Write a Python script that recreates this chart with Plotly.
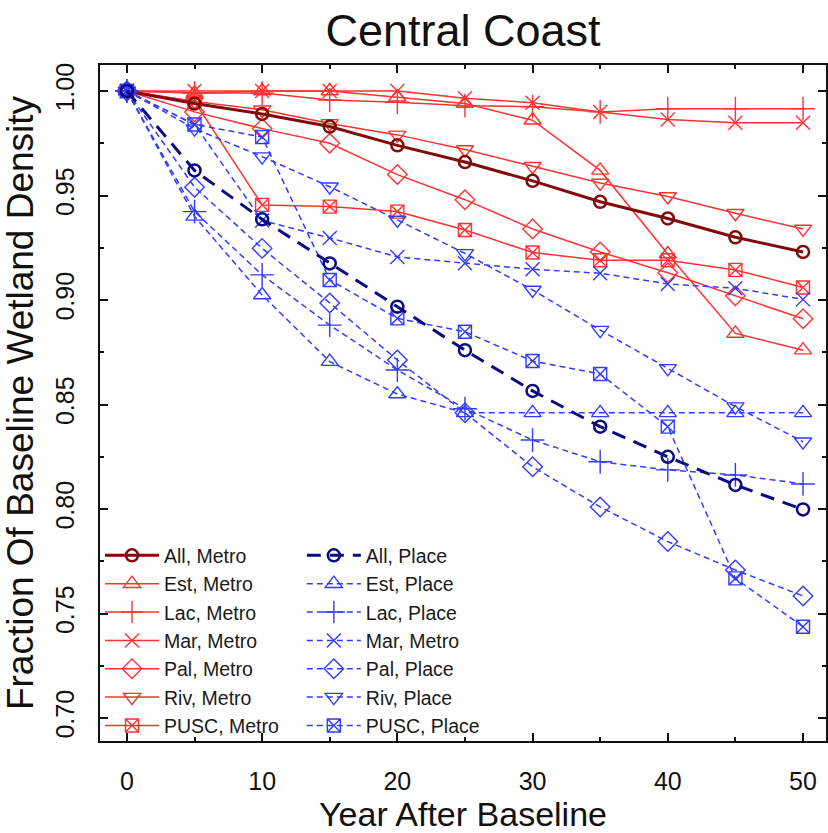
import plotly.graph_objects as go

years = [0, 5, 10, 15, 20, 25, 30, 35, 40, 45, 50]

all_metro = [1.000, 0.994, 0.989, 0.983, 0.974, 0.966, 0.957, 0.947, 0.939, 0.930, 0.923]
est_metro = [1.000, 0.999, 1.000, 1.000, 0.997, 0.994, 0.986, 0.962, 0.922, 0.884, 0.876]
lac_metro = [1.000, 0.999, 0.999, 0.9957, 0.9946, 0.993, 0.9925, 0.990, 0.9915, 0.9915, 0.9915]
mar_metro = [1.000, 1.000, 1.000, 1.000, 1.000, 0.9965, 0.9944, 0.990, 0.9864, 0.9848, 0.9848]
pal_metro = [1.000, 0.990, 0.982, 0.975, 0.960, 0.948, 0.934, 0.923, 0.913, 0.902, 0.891]
riv_metro = [1.000, 0.995, 0.991, 0.9845, 0.979, 0.972, 0.964, 0.956, 0.9495, 0.9415, 0.934]
pusc_metro = [1.000, 0.995, 0.9455, 0.9447, 0.9423, 0.9335, 0.9227, 0.919, 0.919, 0.9144, 0.906]

all_place = [1.000, 0.962, 0.9386, 0.9175, 0.8968, 0.876, 0.8565, 0.8394, 0.825, 0.8115, 0.7998]
est_place = [1.000, 0.940, 0.9024, 0.8705, 0.855, 0.846, 0.846, 0.846, 0.846, 0.846, 0.846]
lac_place = [1.000, 0.9423, 0.912, 0.888, 0.8665, 0.848, 0.833, 0.8226, 0.8187, 0.8163, 0.812]
mar_place = [1.000, 0.984, 0.938, 0.9297, 0.9206, 0.9176, 0.9147, 0.9128, 0.9077, 0.9056, 0.9003]
pal_place = [1.000, 0.954, 0.9247, 0.8986, 0.8713, 0.846, 0.8202, 0.801, 0.7844, 0.7708, 0.7584]
riv_place = [1.000, 0.982, 0.9686, 0.9542, 0.9383, 0.9223, 0.9048, 0.8856, 0.8673, 0.849, 0.8322]
pusc_place = [1.000, 0.984, 0.978, 0.9096, 0.8912, 0.8848, 0.8708, 0.8646, 0.8394, 0.7668, 0.7437]

metro_names = ["Est, Metro", "Lac, Metro", "Mar, Metro", "Pal, Metro", "Riv, Metro", "PUSC, Metro"]
place_names = ["Est, Place", "Lac, Place", "Mar, Metro", "Pal, Place", "Riv, Place", "PUSC, Place"]
symbols = ["triangle-up-open", "cross-thin-open", "x-thin-open", "diamond-open",
           "triangle-down-open", "square-x-open"]
sizes = [15, 17, 14, 15, 15, 13]
metro_vals = [est_metro, lac_metro, mar_metro, pal_metro, riv_metro, pusc_metro]
place_vals = [est_place, lac_place, mar_place, pal_place, riv_place, pusc_place]

RED = "rgb(255,50,50)"
BLUE = "rgb(50,60,255)"
DRED = "rgb(130,10,10)"
NAVY = "rgb(10,10,130)"

fig = go.Figure()

# metro series
for i, (nm, vals) in enumerate(zip(metro_names, metro_vals)):
    fig.add_trace(go.Scatter(
        x=years, y=vals, name=nm, mode="lines+markers", legend="legend", legendrank=i + 2,
        line=dict(color=RED, width=1.5),
        marker=dict(symbol=symbols[i], size=sizes[i], color=RED, line=dict(color=RED, width=1.4)),
    ))
fig.add_trace(go.Scatter(
    x=years, y=all_metro, name="All, Metro", mode="lines+markers", legend="legend", legendrank=1,
    line=dict(color=DRED, width=3),
    marker=dict(symbol="circle-open", size=12, color=DRED, line=dict(color=DRED, width=2.5)),
))
# place series
for i, (nm, vals) in enumerate(zip(place_names, place_vals)):
    fig.add_trace(go.Scatter(
        x=years, y=vals, name=nm, mode="lines+markers", legend="legend2", legendrank=i + 2,
        line=dict(color=BLUE, width=1.5, dash="6px,4px"),
        marker=dict(symbol=symbols[i], size=sizes[i], color=BLUE, line=dict(color=BLUE, width=1.4)),
    ))
fig.add_trace(go.Scatter(
    x=years, y=all_place, name="All, Place", mode="lines+markers", legend="legend2", legendrank=1,
    line=dict(color=NAVY, width=3, dash="14px,9px"),
    marker=dict(symbol="circle-open", size=12, color=NAVY, line=dict(color=NAVY, width=2.5)),
))

TICKFONT = dict(family="Liberation Sans, Arial", size=25, color="#111")
legfont = dict(family="Liberation Sans, Arial", size=19.5, color="#1a1a1a")

fig.update_layout(
    width=828, height=833,
    margin=dict(l=100, r=0, t=65, b=92),
    paper_bgcolor="white", plot_bgcolor="white",
    title=dict(text="Central Coast", x=0.5, xref="paper", xanchor="center",
               y=1 - 30 / 833, yref="container", yanchor="middle",
               font=dict(family="Liberation Sans, Arial", size=45, color="#111")),
    showlegend=True,
    legend=dict(x=0.0, y=0.303, xanchor="left", yanchor="top", bgcolor="rgba(0,0,0,0)",
                font=legfont, itemwidth=54, tracegroupgap=0, traceorder="normal"),
    legend2=dict(x=0.278, y=0.303, xanchor="left", yanchor="top", bgcolor="rgba(0,0,0,0)",
                 font=legfont, itemwidth=54, tracegroupgap=0, traceorder="normal"),
    xaxis=dict(range=[-1.99, 51.70], tickmode="array", tickvals=[0, 10, 20, 30, 40, 50],
               ticks="inside", ticklen=8, tickwidth=2, tickcolor="#111",
               showline=True, linewidth=2, linecolor="#111", mirror="ticks",
               showgrid=False, zeroline=False, tickfont=TICKFONT, ticklabelstandoff=17,
               minor=dict(tickvals=[5, 15, 25, 35, 45], ticks="inside", ticklen=4, tickwidth=1.5, tickcolor="#111", showgrid=False),
               title=dict(text="Year After Baseline", standoff=2,
                          font=dict(family="Liberation Sans, Arial", size=34, color="#111"))),
    yaxis=dict(range=[0.68900, 1.01244], tickmode="array",
               tickvals=[0.70, 0.75, 0.80, 0.85, 0.90, 0.95, 1.00],
               ticktext=["0.70", "0.75", "0.80", "0.85", "0.90", "0.95", "1.00"],
               tickangle=-90,
               ticks="inside", ticklen=8, tickwidth=2, tickcolor="#111",
               showline=True, linewidth=2, linecolor="#111", mirror="ticks",
               showgrid=False, zeroline=False, tickfont=TICKFONT, ticklabelstandoff=14,
               minor=dict(tickvals=[0.725, 0.775, 0.825, 0.875, 0.925, 0.975], ticks="inside", ticklen=4, tickwidth=1.5, tickcolor="#111", showgrid=False),
               title=dict(text="Fraction Of Baseline Wetland Density", standoff=8,
                          font=dict(family="Liberation Sans, Arial", size=37, color="#111"))),
)

fig.write_html("out.html")
